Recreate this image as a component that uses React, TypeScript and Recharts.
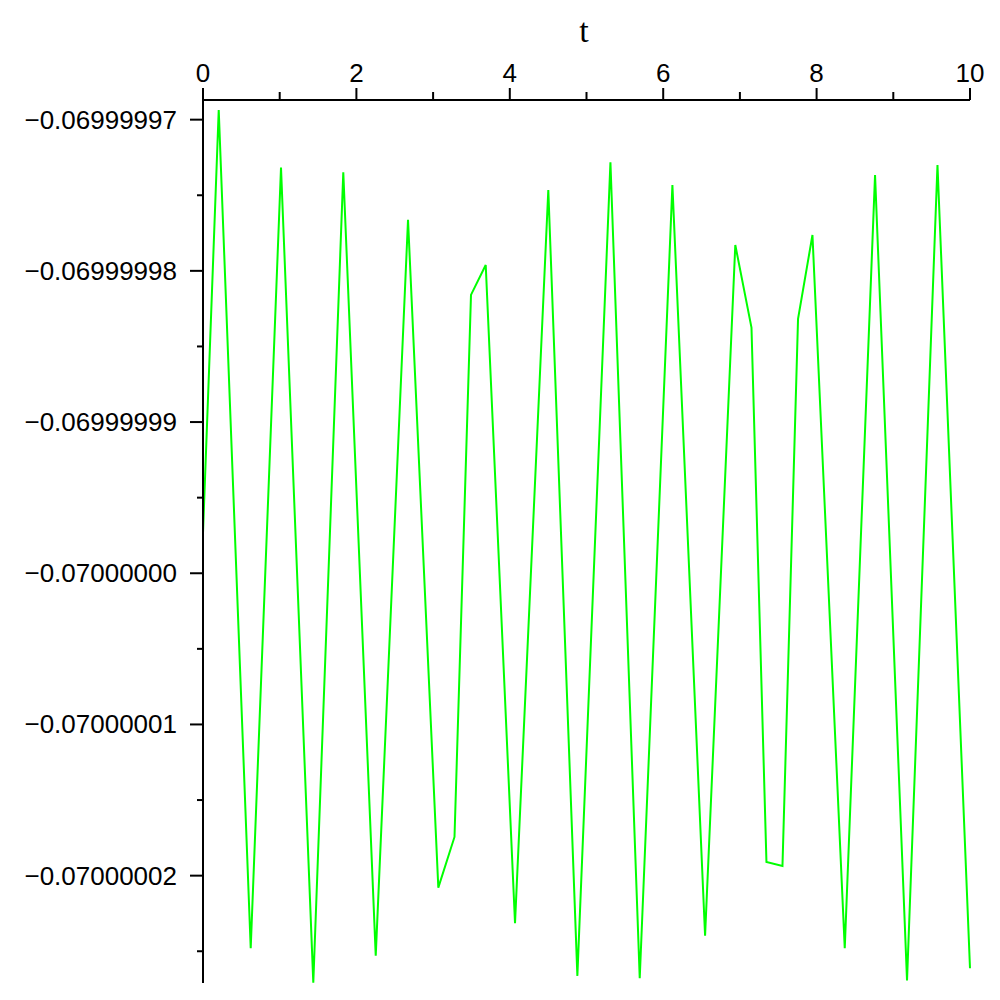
import React from 'react';
import { LineChart, Line, XAxis, YAxis, Label } from 'recharts';

// t values and y values; y is stored as an offset from -0.07 in units of 1e-8
const tValues = [
  0, 0.205, 0.622, 1.017, 1.438, 1.829, 2.252, 2.673, 3.068, 3.279, 3.494, 3.686,
  4.068, 4.502, 4.881, 5.312, 5.694, 6.12, 6.546, 6.94, 7.151, 7.346, 7.555, 7.758,
  7.946, 8.367, 8.762, 9.179, 9.576, 10,
];
const yOffsets = [
  0.267, 3.064, -2.48, 2.683, -2.708, 2.652, -2.529, 2.337, -2.079, -1.744, 1.841, 2.039,
  -2.315, 2.535, -2.663, 2.718, -2.679, 2.568, -2.397, 2.171, 1.625, -1.909, -1.936, 1.682,
  2.237, -2.48, 2.634, -2.694, 2.7, -2.612,
];

const xTicks = [0, 1, 2, 3, 4, 5, 6, 7, 8, 9, 10];
const yTicks = [-2.5, -2, -1.5, -1, -0.5, 0, 0.5, 1, 1.5, 2, 2.5, 3];

const data = tValues.map((t, i) => ({ t, y: yOffsets[i] }));

const FONT = '"Liberation Sans", Arial, sans-serif';

function formatY(v: number): string {
  return '\u2212' + (0.07 - v * 1e-8).toFixed(8);
}

function XTick({ x, y, payload }: any) {
  const major = payload.value % 2 === 0;
  return (
    <g>
      <line x1={x} x2={x} y1={y} y2={y - (major ? 12 : 8)} stroke="#000" strokeWidth={2} />
      {major && (
        <text x={x} y={y - 18} textAnchor="middle" fontFamily={FONT} fontSize={26} fill="#000">
          {payload.value}
        </text>
      )}
    </g>
  );
}

function YTick({ x, y, payload }: any) {
  const major = Number.isInteger(payload.value);
  return (
    <g>
      <line x1={x} x2={x - (major ? 13 : 6)} y1={y} y2={y} stroke="#000" strokeWidth={2} />
      {major && (
        <text x={x - 26} y={y} dy={9} textAnchor="end" fontFamily={FONT} fontSize={26} fill="#000">
          {formatY(payload.value)}
        </text>
      )}
    </g>
  );
}

function AxisTitle({ viewBox }: any) {
  if (!viewBox) return null;
  return (
    <text
      x={viewBox.x + viewBox.width / 2 - 2.5}
      y={viewBox.y + 12}
      textAnchor="middle"
      fontFamily='"Liberation Serif", serif'
      fontSize={34}
      fill="#000"
    >
      t
    </text>
  );
}

export default function App() {
  return (
    <div style={{ position: 'absolute', left: 0, top: 0, background: '#fff' }}>
      <LineChart width={1000} height={1000} data={data} margin={{ top: 30, right: 30, bottom: 17, left: 8 }}>
        <XAxis
          dataKey="t"
          type="number"
          orientation="top"
          domain={[0, 10]}
          ticks={xTicks}
          interval={0}
          height={70}
          tickSize={0}
          tickMargin={0}
          tickLine={false}
          tick={<XTick />}
          axisLine={{ stroke: '#000', strokeWidth: 2 }}
        >
          <Label content={<AxisTitle />} />
        </XAxis>
        <YAxis
          type="number"
          domain={[-2.71, 3.13]}
          allowDataOverflow
          ticks={yTicks}
          interval={0}
          width={195}
          tickSize={0}
          tickMargin={0}
          tickLine={false}
          tick={<YTick />}
          axisLine={{ stroke: '#000', strokeWidth: 2 }}
        />
        <Line
          type="linear"
          dataKey="y"
          stroke="#00ff00"
          strokeWidth={2}
          dot={false}
          isAnimationActive={false}
        />
      </LineChart>
    </div>
  );
}
